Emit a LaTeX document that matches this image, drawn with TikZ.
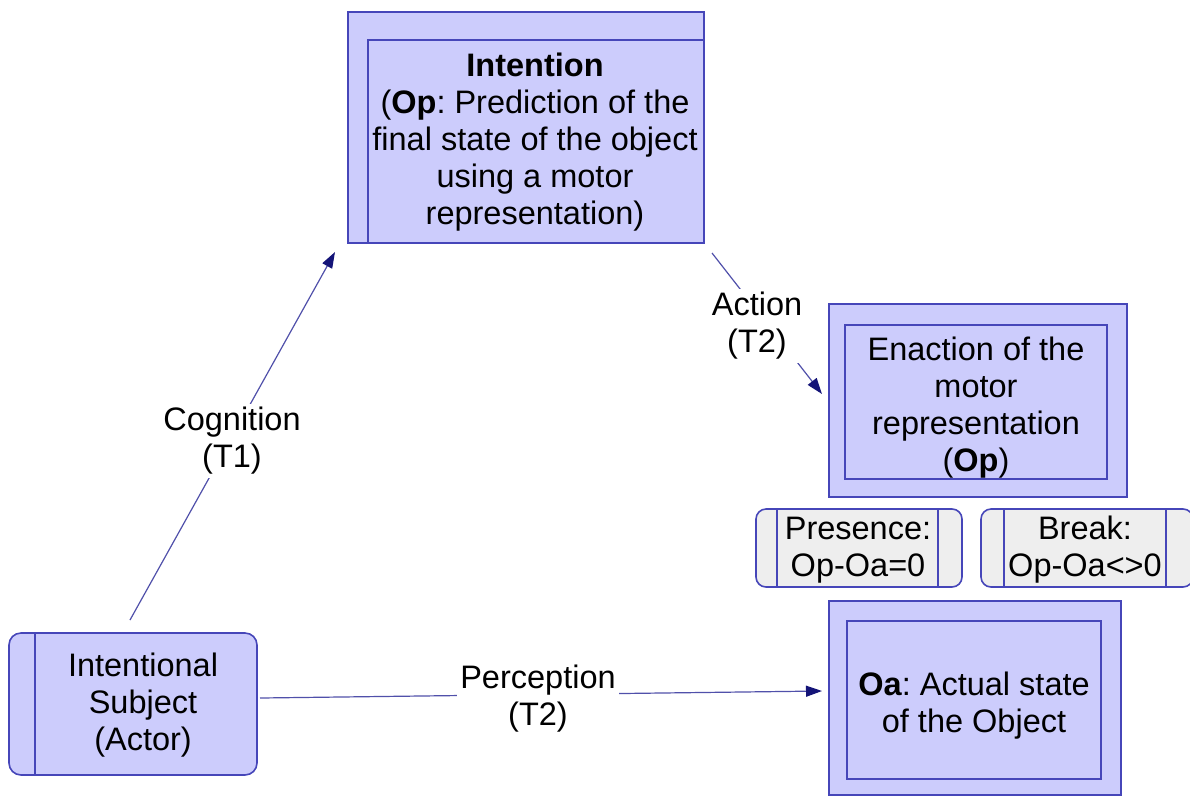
\documentclass[tikz,border=0pt]{standalone}
\usepackage{fontspec}
\setmainfont{Liberation Sans}
\usetikzlibrary{arrows.meta}
\frenchspacing
\definecolor{boxfill}{RGB}{204,204,252}
\definecolor{boxline}{RGB}{70,70,185}
\definecolor{grayfill}{RGB}{238,238,238}
\definecolor{arrowline}{RGB}{80,80,170}
\definecolor{arrowhead}{RGB}{20,20,120}
\tikzset{
  outerbox/.style={draw=boxline, fill=boxfill, line width=1.6pt, inner sep=0pt},
  innerbox/.style={draw=boxline, line width=1.3pt, inner sep=0pt},
  pillbox/.style={draw=boxline, fill=grayfill, line width=1.6pt, rounded corners=10pt, inner sep=0pt},
  subjbox/.style={draw=boxline, fill=boxfill, line width=1.6pt, rounded corners=12pt, inner sep=0pt},
  txt/.style={align=center, inner sep=0pt, font=\fontsize{32.5}{37}\selectfont},
  lbl/.style={align=center, fill=white, inner sep=3pt, font=\fontsize{32.5}{37}\selectfont},
  conn/.style={draw=arrowline, line width=1.2pt},
  arr/.style={conn, -{Triangle[length=16pt,width=11pt,fill=arrowhead,color=arrowhead]}},
  sepline/.style={draw=boxline, line width=1.3pt}
}
\begin{document}
\begin{tikzpicture}[x=1pt,y=-1pt]
\useasboundingbox (0,0) rectangle (1190,796);
\fill[white] (0,0) rectangle (1190,796);

% Intention
\node[outerbox, minimum width=356pt, minimum height=231pt] (intO) at (526,127.5) {};
\node[innerbox, minimum width=336pt, minimum height=203pt] (int) at (536,141.5) {};
\node[txt] (intt) at (535,142)
  {\textbf{Intention}\\(\textbf{Op}: Prediction of the\\final state of the object\\using a motor\\representation)};

% Enaction
\node[outerbox, minimum width=298pt, minimum height=193pt] (enO) at (978,400.5) {};
\node[innerbox, minimum width=262pt, minimum height=154pt] (en) at (976,402) {};
\node[txt] (ent) at (976,408) {Enaction of the\\motor\\representation\\(\textbf{Op})};

% Presence / Break
\node[pillbox, minimum width=206pt, minimum height=78pt] (pres) at (859,548) {};
\draw[sepline] (777,509) -- (777,587);
\draw[sepline] (938,509) -- (938,587);
\node[txt] (prest) at (858,550) {Presence:\\Op-Oa=0};

\node[pillbox, minimum width=212pt, minimum height=78pt] (brk) at (1087,548) {};
\draw[sepline] (1004,509) -- (1004,587);
\draw[sepline] (1166,509) -- (1166,587);
\node[txt] (brkt) at (1085,550) {Break:\\Op-Oa<>0};

% Oa
\node[outerbox, minimum width=292pt, minimum height=194pt] (oaO) at (975,698) {};
\node[innerbox, minimum width=254pt, minimum height=158pt] (oa) at (974,700) {};
\node[txt] (oat) at (974,706) {\textbf{Oa}: Actual state\\of the Object};

% Intentional subject
\node[subjbox, minimum width=248pt, minimum height=142pt] (subj) at (133,704) {};
\draw[sepline] (35,634) -- (35,774);
\node[txt] (subjt) at (143,705) {Intentional\\Subject\\(Actor)};

% connectors
\coordinate (cogS) at (130,620);
\coordinate (cogE) at (335,252);
\draw[arr] (cogS) -- (cogE);
\node[lbl] (cogL) at (232,441) {Cognition\\(T1)};

\coordinate (actS) at (712,253);
\coordinate (actE) at (822,394);
\draw[arr] (actS) -- (actE);
\node[lbl] (actL) at (757,326) {Action\\(T2)};

\coordinate (perS) at (260,698);
\coordinate (perE) at (822,691);
\draw[arr] (perS) -- (perE);
\node[lbl] (perL) at (538,699) {Perception\\(T2)};
\end{tikzpicture}
\end{document}
